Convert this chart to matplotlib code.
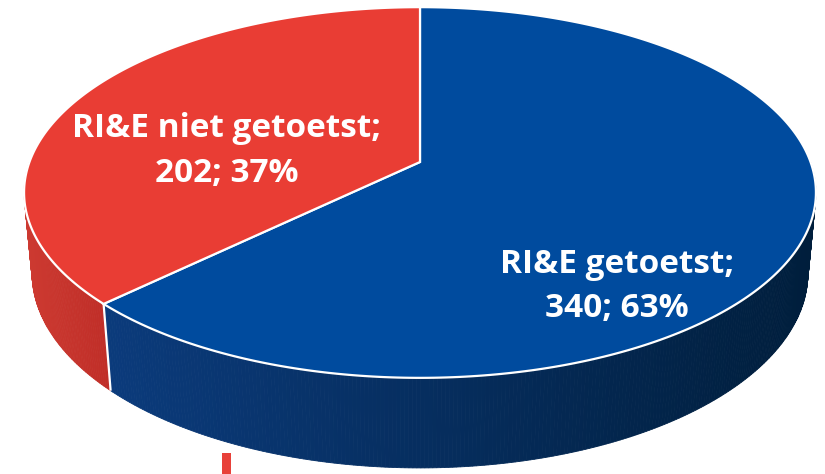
import numpy as np
import matplotlib.pyplot as plt
from matplotlib.patches import Polygon, Rectangle
from matplotlib.colors import to_rgb

labels = ['RI&E getoetst', 'RI&E niet getoetst']
counts = [340, 202]
top_colors = ['#004B9E', '#E93D34']
side_colors = [('#0B3B7C', '#001E3C'), ('#CD3A31', '#C02E28')]

# simple perspective camera (pixels)
elev = np.radians(27.5)
dist = 5.39
focal = 2105
cx, cy = 420, 162
thick = 0.235


def project(theta, z=0.0):
    x = np.cos(theta)
    y = np.sin(theta)
    w = dist + y * np.cos(elev) - z * np.sin(elev)
    v = y * np.sin(elev) + z * np.cos(elev)
    return cx + focal * x / w, cy - focal * v / w


def mix(c1, c2, t):
    a = np.array(to_rgb(c1))
    b = np.array(to_rgb(c2))
    return tuple(a + (b - a) * t)


fig = plt.figure(figsize=(8.25, 4.74), dpi=100)
ax = fig.add_axes([0, 0, 1, 1])
ax.set_xlim(0, 825)
ax.set_ylim(474, 0)
ax.axis('off')

total = sum(counts)
# blue goes clockwise from 12 o'clock, red fills the rest
angles = []
start = 90.0
for c in counts:
    sweep = 360.0 * c / total
    angles.append((start - sweep, start))
    start -= sweep

# sides (front half only)
for (a1, a2), cols in zip(angles, side_colors):
    lo, hi = a1 % 360, a2 % 360
    if hi <= lo:
        hi += 360
    ranges = []
    for off in (0, 360, -360):
        s = max(lo + off, 180)
        e = min(hi + off, 360)
        if e > s:
            ranges.append((s, e))
    for s, e in ranges:
        ts = np.radians(np.linspace(s, e, int((e - s) * 2) + 2))
        xs_all = project(ts)[0]
        x0, x1 = xs_all.min(), xs_all.max()
        for i in range(len(ts) - 1):
            t = ts[i:i + 2]
            tx, ty = project(t)
            bx, by = project(t[::-1], -thick)
            frac = (tx.mean() - x0) / max(x1 - x0, 1)
            col = mix(cols[0], cols[1], frac)
            ax.add_patch(Polygon(np.column_stack([np.r_[tx, bx], np.r_[ty, by]]),
                                 closed=True, facecolor=col, edgecolor=col, lw=0.6))

# white edge where the two sides meet
edge = np.radians(angles[0][0])
ex, ey = project(np.array([edge, edge]), np.array([0.0, -thick]))
ax.plot(ex, ey, color='white', lw=1.6, solid_capstyle='butt')

# top faces
for (a1, a2), col in zip(angles, top_colors):
    ts = np.radians(np.linspace(a1, a2, 300))
    tx, ty = project(ts)
    pts = np.column_stack([np.r_[cx, tx], np.r_[cy, ty]])
    ax.add_patch(Polygon(pts, closed=True, facecolor=col, edgecolor='white',
                         lw=1.6, joinstyle='miter'))

# labels
label_pos = [(617, 273, 317), (227, 137, 182)]
for lab, c, (x, y1, y2) in zip(labels, counts, label_pos):
    pct = round(100 * c / total)
    kw = dict(color='white', fontsize=24, fontweight='bold', family='Open Sans',
              ha='center', va='baseline')
    ax.text(x, y1, lab + ';', **kw)
    ax.text(x, y2, f'{c}; {pct}%', **kw)

# small red mark at the bottom edge
ax.add_patch(Rectangle((222, 453), 9, 25, facecolor='#E8413A', edgecolor='none'))

fig.savefig('out.png', dpi=100)
